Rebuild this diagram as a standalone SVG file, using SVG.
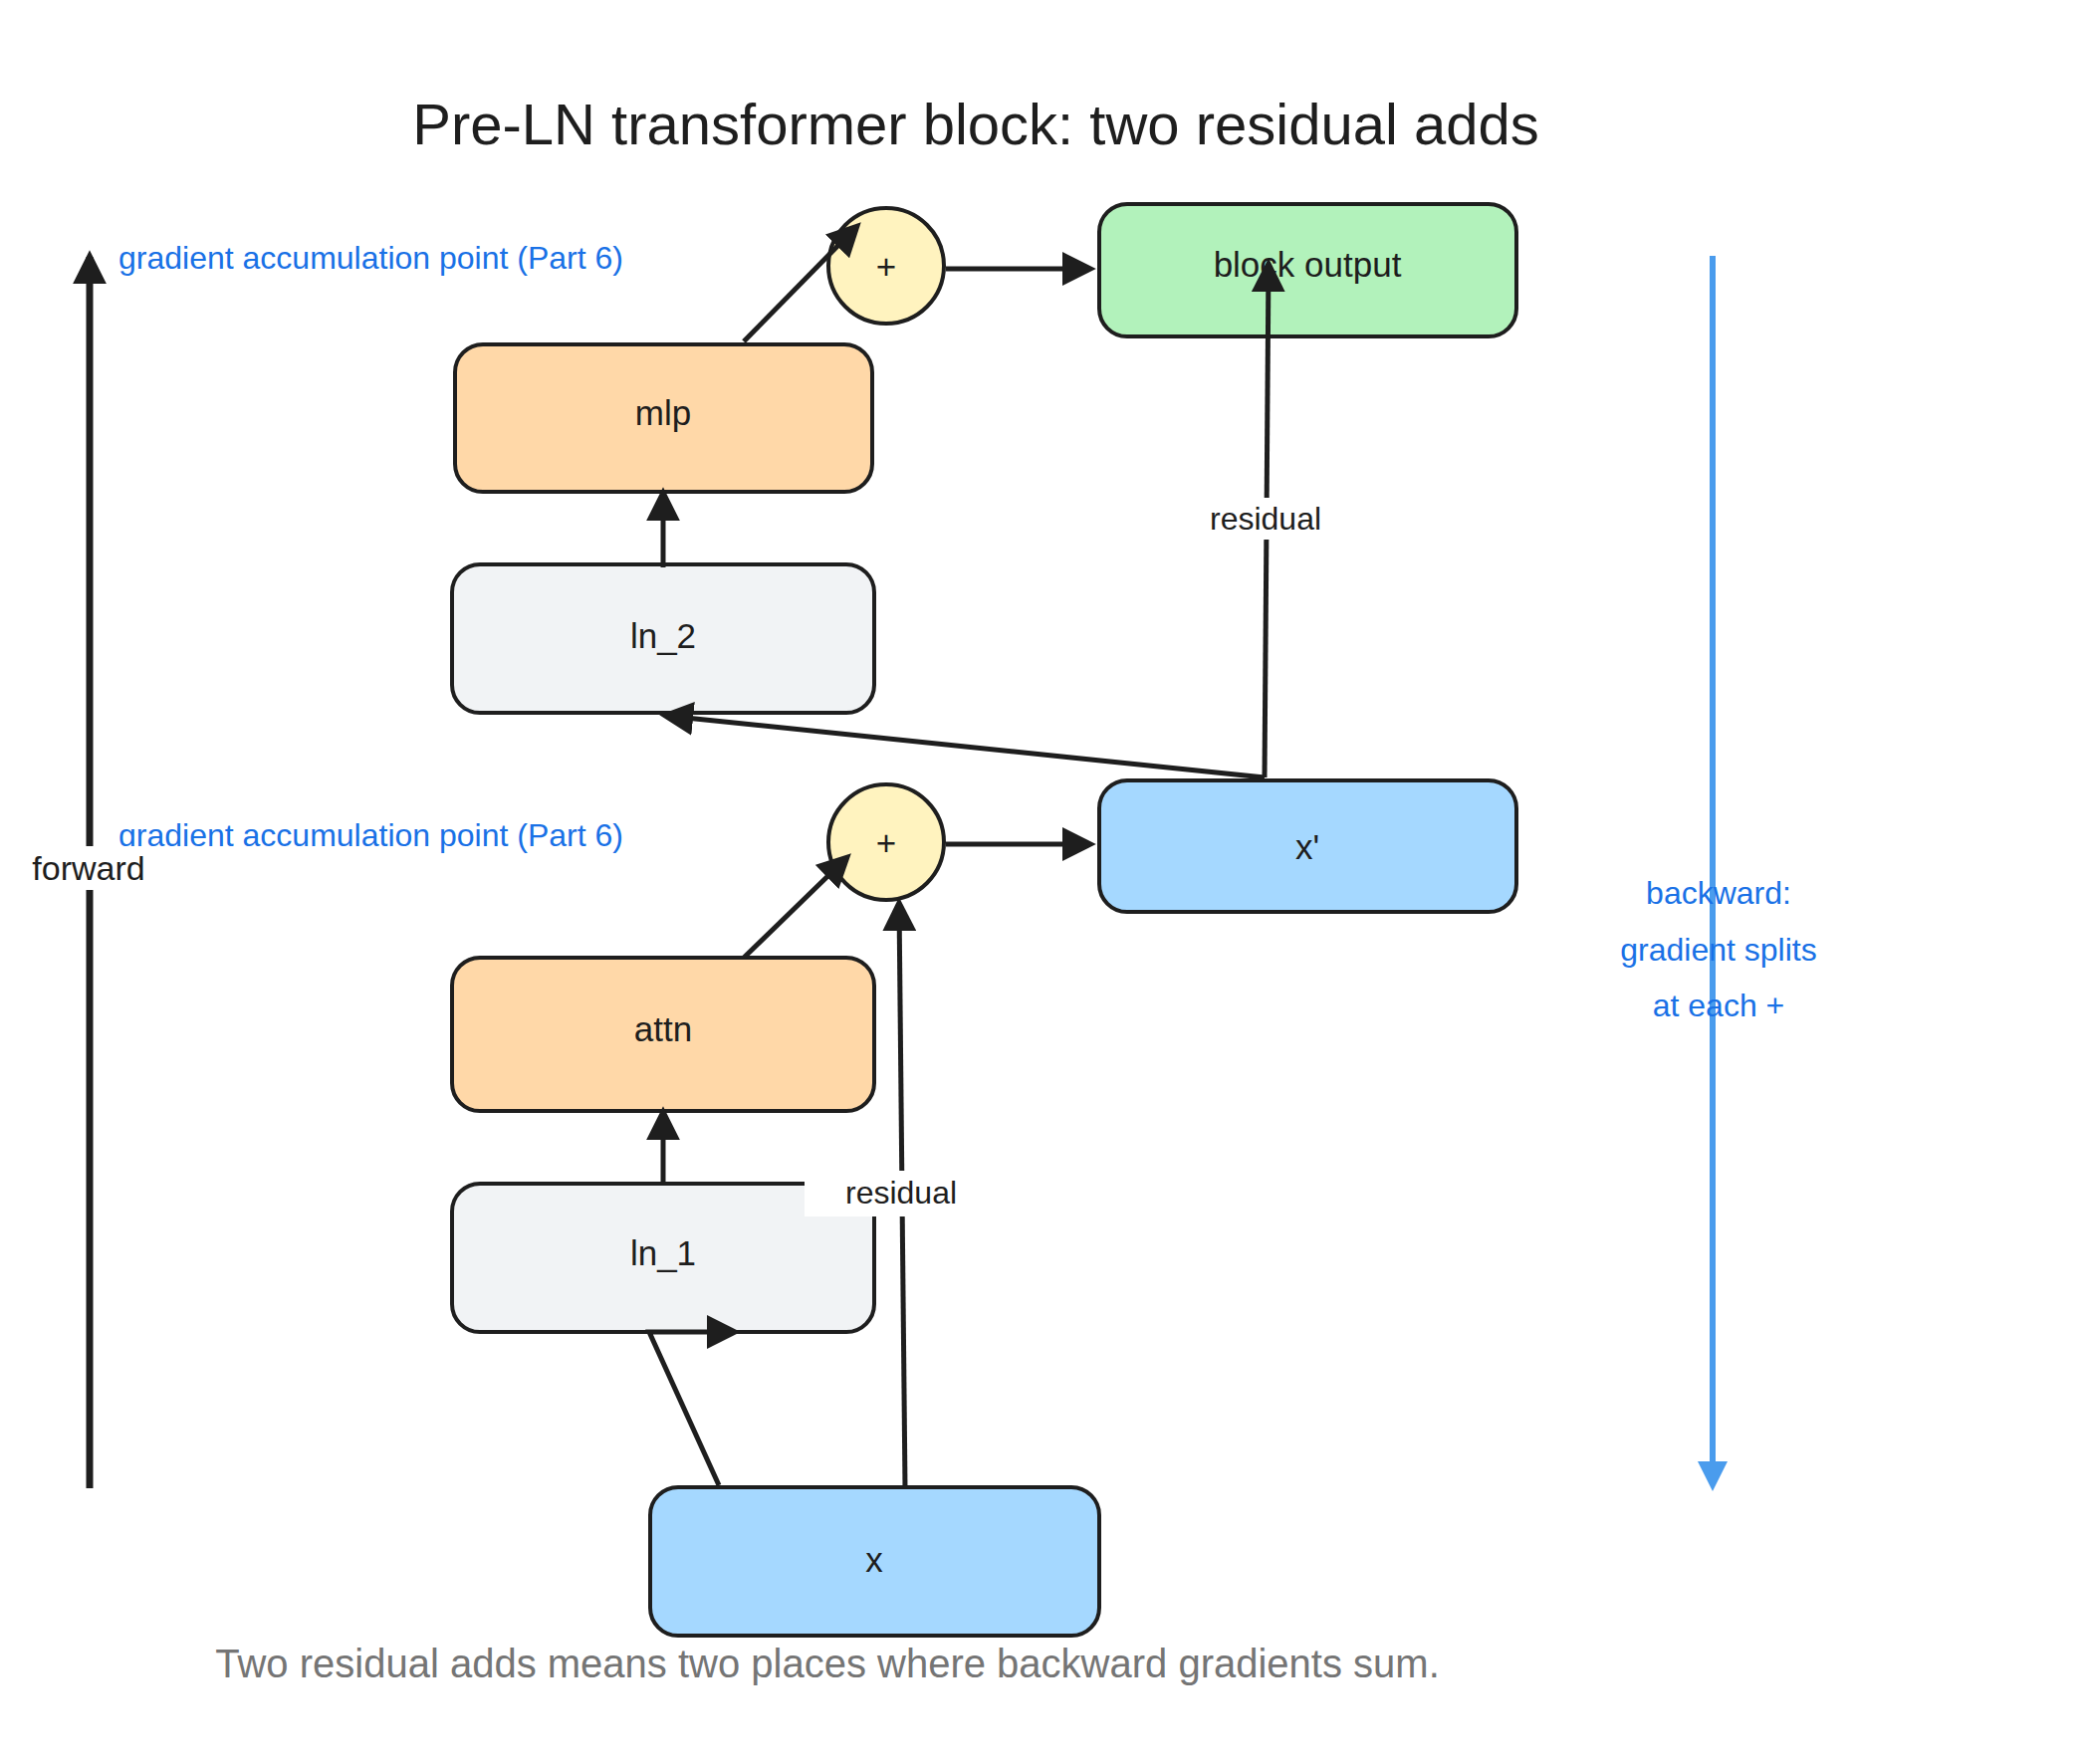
<svg xmlns="http://www.w3.org/2000/svg" width="2092" height="1772" viewBox="0 0 2092 1772">
<style>
text{font-family:"Liberation Sans",Arial,sans-serif;fill:#1e1e1e}
.n{stroke:#1e1e1e;stroke-width:4}
.lbl{font-size:35px;text-anchor:middle;dominant-baseline:central}
.c{stroke:#1e1e1e;stroke-width:5;fill:none;marker-end:url(#ahk)}
.blue{fill:#1971e6;font-size:32px}
</style>
<defs>
<marker id="ahb" viewBox="0 0 10 10" refX="8" refY="5" markerWidth="30" markerHeight="30" orient="auto" markerUnits="userSpaceOnUse"><path d="M0,0L10,5L0,10z" fill="#4a9ced"/></marker>
<marker id="ahk" viewBox="0 0 10 10" refX="8" refY="5" markerWidth="34" markerHeight="34" orient="auto" markerUnits="userSpaceOnUse"><path d="M0,0L10,5L0,10z" fill="#1e1e1e"/></marker>
</defs>
<rect width="2092" height="1772" fill="#fff"/>
<text x="980" y="124" font-size="58" text-anchor="middle" dominant-baseline="central">Pre-LN transformer block: two residual adds</text>
<text class="blue" x="119" y="259" dominant-baseline="central">gradient accumulation point (Part 6)</text>
<text class="blue" x="119" y="839" dominant-baseline="central">gradient accumulation point (Part 6)</text>
<g id="plus1"><circle class="n" cx="890" cy="267" r="58" fill="#fff3bf"/><text class="lbl" x="890" y="267">+</text></g>
<g id="plus2"><circle class="n" cx="890" cy="846" r="58" fill="#fff3bf"/><text class="lbl" x="890" y="846">+</text></g>
<g id="block_output"><rect class="n" x="1104" y="205" width="419" height="133" rx="28" fill="#b2f2bb"/><text class="lbl" x="1313" y="265">block output</text></g>
<g id="mlp"><rect class="n" x="457" y="346" width="419" height="148" rx="28" fill="#ffd8a8"/><text class="lbl" x="666" y="414">mlp</text></g>
<g id="ln_2"><rect class="n" x="454" y="567" width="424" height="149" rx="28" fill="#f1f3f5"/><text class="lbl" x="666" y="638">ln_2</text></g>
<g id="x_prime"><rect class="n" x="1104" y="784" width="419" height="132" rx="28" fill="#a5d8ff"/><text class="lbl" x="1313" y="850">x'</text></g>
<g id="attn"><rect class="n" x="454" y="962" width="424" height="154" rx="28" fill="#ffd8a8"/><text class="lbl" x="666" y="1033">attn</text></g>
<g id="ln_1"><rect class="n" x="454" y="1189" width="424" height="149" rx="28" fill="#f1f3f5"/><text class="lbl" x="666" y="1258">ln_1</text></g>
<g id="x"><rect class="n" x="653" y="1494" width="451" height="149" rx="28" fill="#a5d8ff"/><text class="lbl" x="878" y="1566">x</text></g>
<g id="connectors">
<line x1="90" y1="1495" x2="90" y2="258" stroke="#1e1e1e" stroke-width="7" marker-end="url(#ahk)"/>
<line x1="1720" y1="257" x2="1720" y2="1492" stroke="#4a9ced" stroke-width="6" marker-end="url(#ahb)"/>
<path class="c" d="M722,1492 L652,1338 L737,1338"/>
<line class="c" x1="666" y1="1189" x2="666" y2="1118"/>
<line class="c" x1="747" y1="962" x2="850" y2="862"/>
<line class="c" x1="909" y1="1495" x2="903" y2="908"/>
<line class="c" x1="950" y1="848" x2="1094" y2="848"/>
<line class="c" x1="1270" y1="781" x2="669" y2="719"/>
<line class="c" x1="1270" y1="781" x2="1274" y2="266"/>
<line class="c" x1="666" y1="570" x2="666" y2="496"/>
<line class="c" x1="747" y1="343" x2="860" y2="228"/>
<line class="c" x1="950" y1="270" x2="1094" y2="270"/>
<rect x="808" y="1176" width="160" height="46" fill="#fff"/>
<text x="905" y="1198" class="lbl" style="font-size:32px">residual</text>
<rect x="1208" y="500" width="126" height="42" fill="#fff"/>
<text x="1271" y="521" class="lbl" style="font-size:32px">residual</text>
<rect x="30" y="850" width="120" height="44" fill="#fff"/>
<text x="89" y="872" class="lbl" style="font-size:34px">forward</text>
</g>
<g text-anchor="middle"><text class="blue" x="1726" y="897" dominant-baseline="central">backward:</text><text class="blue" x="1726" y="954" dominant-baseline="central">gradient splits</text><text class="blue" x="1726" y="1010" dominant-baseline="central">at each +</text></g>
<text x="831" y="1671" font-size="40" text-anchor="middle" dominant-baseline="central" style="fill:#757575">Two residual adds means two places where backward gradients sum.</text>
</svg>
